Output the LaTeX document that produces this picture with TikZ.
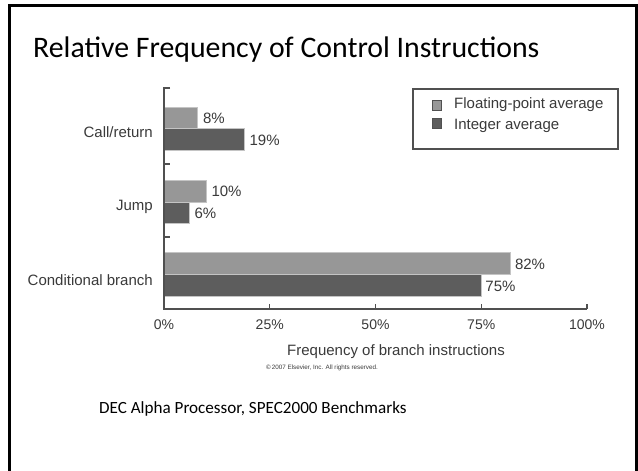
\documentclass[tikz,border=0pt]{standalone}
\usepackage{fontspec}
\setmainfont{Carlito}
\newfontfamily\chartfont{Liberation Sans}
\definecolor{fpgray}{HTML}{979797}
\definecolor{intgray}{HTML}{5D5D5D}
\definecolor{edgegray}{HTML}{C4C4C4}
\definecolor{axisgray}{HTML}{505050}
\definecolor{inkgray}{HTML}{3A3A3A}
\begin{document}
\begin{tikzpicture}[x=1pt,y=-1pt,
  fpbar/.style={fill=fpgray,draw=edgegray,line width=0.8pt},
  intbar/.style={fill=intgray,draw=edgegray,line width=0.8pt},
  axisline/.style={draw=axisgray,line width=1.4pt},
  cat/.style={font=\chartfont\fontsize{15}{18}\selectfont,text=inkgray,anchor=east,inner sep=0pt},
  val/.style={font=\chartfont\fontsize{15}{18}\selectfont,text=inkgray,anchor=west,inner sep=0pt},
  tick/.style={font=\chartfont\fontsize{14}{17}\selectfont,text=inkgray,inner sep=0pt},
  legtext/.style={font=\chartfont\fontsize{15}{18}\selectfont,text=inkgray,anchor=west,inner sep=0pt},
  legkey/.style={line width=0.8pt,draw=axisgray}]
\useasboundingbox (0,0) rectangle (638,471);
\fill[white] (0,0) rectangle (638,471);
% slide frame
\draw[line width=3pt,black] (9.5,471) -- (9.5,5.5) -- (636.5,5.5) -- (636.5,471);

% slide texts
\node[anchor=base west,inner sep=0pt,font=\fontsize{29.8}{34}\selectfont] (title) at (33,57) {Relative Frequency of Control Instructions};
\node[anchor=base west,inner sep=0pt,font=\fontsize{17.1}{20}\selectfont] (subtitle) at (99,413) {DEC Alpha Processor, SPEC2000 Benchmarks};

% horizontal scale: 0% at 164, 100% at 587
\def\sx{4.23}
% bars
\draw[fpbar]  (164,107) rectangle ({164+\sx*8},128);
\draw[intbar] (164,128) rectangle ({164+\sx*19},150);
\draw[fpbar]  (164,180) rectangle ({164+\sx*10},202);
\draw[intbar] (164,202) rectangle ({164+\sx*6},223);
\draw[fpbar]  (164,252) rectangle ({164+\sx*82},274);
\draw[intbar] (164,274) rectangle ({164+\sx*75},296);

% axes
\draw[axisline] (170,88) -- (164,88) -- (164,309) -- (587,309);
\foreach \yy in {164,237} \draw[axisline] (164,\yy) -- (170,\yy);
\foreach \pc in {25,50,75,100} \draw[axisline] ({164+\sx*\pc},309) -- ({164+\sx*\pc},304);

% value labels
\node[val] (v1) at ({164+\sx*8+5},118) {8\%};
\node[val] (v2) at ({164+\sx*19+5},140) {19\%};
\node[val] (v3) at ({164+\sx*10+5},191) {10\%};
\node[val] (v4) at ({164+\sx*6+5},213) {6\%};
\node[val] (v5) at ({164+\sx*82+4},264) {82\%};
\node[val] (v6) at ({164+\sx*75+4},286) {75\%};

% category labels
\node[cat] (c1) at (153,132) {Call/return};
\node[cat] (c2) at (153,207) {Jump};
\node[cat] (c3) at (153,280) {Conditional branch};

% tick labels
\foreach \pc in {0,25,50,75,100}
  \node[tick] (t\pc) at ({164+\sx*\pc},325) {\pc\%};
\node[tick,font=\chartfont\fontsize{15}{18}\selectfont] (xtitle) at (396,352) {Frequency of branch instructions};
\node[inner sep=0pt,text=inkgray,font=\chartfont\fontsize{6.3}{7}\selectfont] (copy) at (322,368) {\textcopyright\,2007 Elsevier, Inc. All rights reserved.};

% legend
\draw[line width=1.3pt,draw=axisgray] (413,89) rectangle (618,149);
\draw[legkey,fill=fpgray]  (432,100) rectangle (441,110);
\draw[legkey,fill=intgray] (432,118) rectangle (441,128);
\node[legtext] (l1) at (454,105) {Floating-point average};
\node[legtext] (l2) at (454,126) {Integer average};
\end{tikzpicture}
\end{document}
